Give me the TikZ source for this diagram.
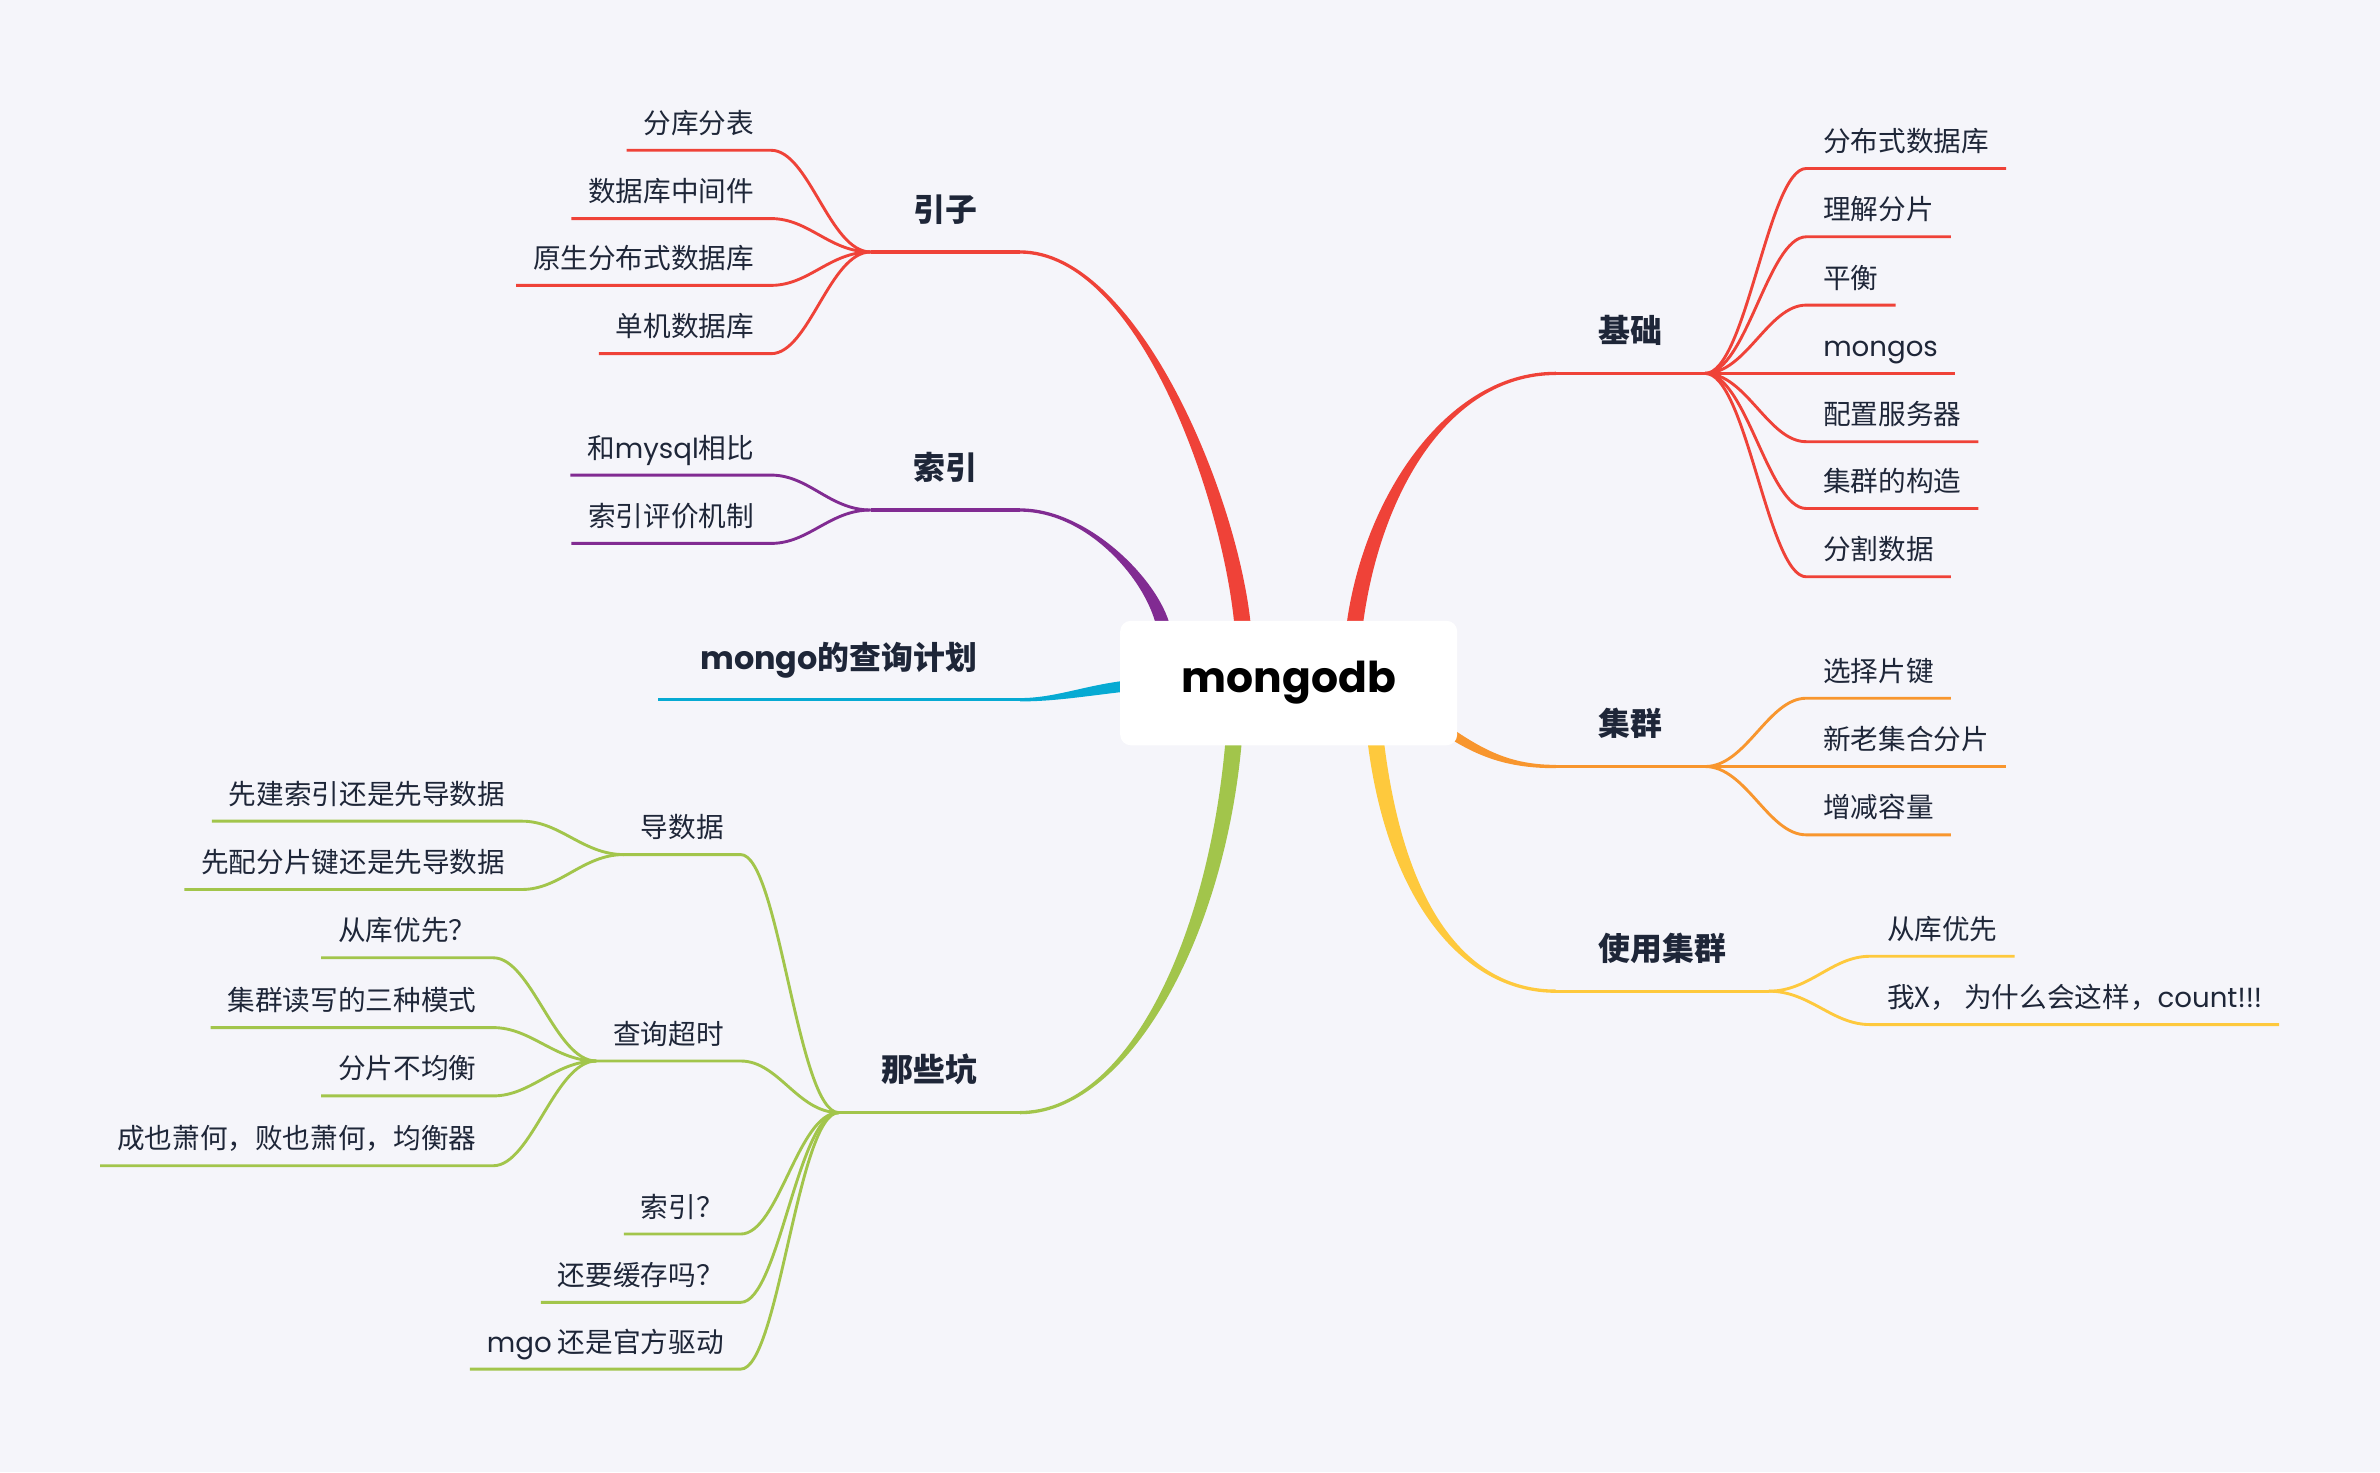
\documentclass[tikz,border=0pt]{standalone}
\usepackage{fontspec}
\setmainfont{Noto Sans CJK SC}
\newfontfamily\lat{Poppins}
\usetikzlibrary{calc}
\pgfdeclarelayer{under}
\pgfsetlayers{under,main}
\definecolor{paper}{HTML}{F5F5FA}
\definecolor{ink}{HTML}{1E2638}
\definecolor{cred}{HTML}{EF4238}
\definecolor{cpurple}{HTML}{812B92}
\definecolor{ccyan}{HTML}{06AAD3}
\definecolor{cgreen}{HTML}{A2C54B}
\definecolor{cyellow}{HTML}{FEC93D}
\definecolor{corange}{HTML}{F8962E}
% tapered main branch: colour, start, control 1, control 2, end, half width at start
\newcommand\trunk[6]{%
  \fill[#1] ($(#2)+(#6)$) .. controls ($(#3)+(#6)$) and ($(#4)+(0,-1.1)$) .. ($(#5)+(0,-1.1)$)
    -- ($(#5)+(0,1.1)$) .. controls ($(#4)+(0,1.1)$) and ($(#3)-(#6)$) .. ($(#2)-(#6)$) -- cycle;}
\begin{document}
\begin{tikzpicture}[x=1pt,y=-1pt,
    hub/.style={fill=white, rounded corners=7pt, minimum width=222pt, minimum height=82pt,
      font=\lat\bfseries\fontsize{28}{30}\selectfont, text=black},
    topic/.style={font=\bfseries\fontsize{21}{24}\selectfont, text=ink,
      inner xsep=28pt, inner ysep=0pt, text height=16pt, text depth=20pt},
    leaf/.style={font=\fontsize{18.2}{22}\selectfont, text=ink,
      inner xsep=11pt, inner ysep=0pt, text height=14pt, text depth=11pt},
    bar/.style={line width=2.2pt},
    twig/.style={line width=1.9pt}]
  \useasboundingbox (0,0) rectangle (1568,970);
  \begin{pgfonlayer}{under}
    \fill[paper] (0,0) rectangle (1568,970);
  \end{pgfonlayer}

  \node[hub] (hub) at (849,450) {mongodb};

  % right side
  \node[topic, anchor=south west] (jichu) at (1025,246) {基础};
  \node[leaf, anchor=south west] (fbs) at (1190,111) {分布式数据库};
  \node[leaf, anchor=south west] (ljfp) at (1190,156) {理解分片};
  \node[leaf, anchor=south west] (ph) at (1190,201) {平衡};
  \node[leaf, anchor=south west] (mgs) at (1190,246) {{\lat mongos}};
  \node[leaf, anchor=south west] (pz) at (1190,291) {配置服务器};
  \node[leaf, anchor=south west] (gz) at (1190,335) {集群的构造};
  \node[leaf, anchor=south west] (fg) at (1190,380) {分割数据};

  \node[topic, anchor=south west] (jiqun) at (1025,505) {集群};
  \node[leaf, anchor=south west] (xzpj) at (1190,460) {选择片键};
  \node[leaf, anchor=south west] (xljh) at (1190,505) {新老集合分片};
  \node[leaf, anchor=south west] (zjrl) at (1190,550) {增减容量};

  \node[topic, anchor=south west] (shiyong) at (1025,653) {使用集群};
  \node[leaf, anchor=south west] (cky) at (1232,630) {从库优先};
  \node[leaf, anchor=south west] (wox) at (1232,675) {我X， 为什么会这样，{\lat count!!!}};

  % left side
  \node[topic, anchor=south east] (yinzi) at (672,166) {引子};
  \node[leaf, anchor=south east] (fkfb) at (508,99) {分库分表};
  \node[leaf, anchor=south east] (zjj) at (508,144) {数据库中间件};
  \node[leaf, anchor=south east] (ysfb) at (508,188) {原生分布式数据库};
  \node[leaf, anchor=south east] (djsj) at (508,233) {单机数据库};

  \node[topic, anchor=south east] (suoyin) at (672,336) {索引};
  \node[leaf, anchor=south east] (hmy) at (508,313) {和{\lat mysql}相比};
  \node[leaf, anchor=south east] (pjjz) at (508,358) {索引评价机制};

  \node[topic, anchor=south east] (plan) at (672,461) {{\lat mongo}的查询计划};

  \node[topic, anchor=south east] (keng) at (672,733) {那些坑};
  \node[leaf, anchor=south east] (dsj) at (488,563) {导数据};
  \node[leaf, anchor=south east] (jsy) at (344,541) {先建索引还是先导数据};
  \node[leaf, anchor=south east] (pfp) at (344,586) {先配分片键还是先导数据};
  \node[leaf, anchor=south east] (cxcs) at (488,699) {查询超时};
  \node[leaf, anchor=south east] (ckyx) at (325,631) {从库优先？};
  \node[leaf, anchor=south east] (dxms) at (325,677) {集群读写的三种模式};
  \node[leaf, anchor=south east] (bjh) at (325,722) {分片不均衡};
  \node[leaf, anchor=south east] (jhq) at (325,768) {成也萧何，败也萧何，均衡器};
  \node[leaf, anchor=south east] (syw) at (488,813) {索引？};
  \node[leaf, anchor=south east] (hcw) at (488,858) {还要缓存吗？};
  \node[leaf, anchor=south east] (qd) at (488,902) {{\lat mgo} 还是官方驱动};

  % main branches, under the hub
  \coordinate (s1) at ($(hub.north)+(-30,7)$);
  \coordinate (s2) at ($(hub.north)+(-82,7)$);
  \coordinate (s3) at ($(hub.west)+(4,2)$);
  \coordinate (s4) at ($(hub.south)+(-36,-6)$);
  \coordinate (s5) at ($(hub.north)+(43,7)$);
  \coordinate (s6) at ($(hub.east)+(-12,28)$);
  \coordinate (s7) at ($(hub.south)+(57,-6)$);
  \begin{pgfonlayer}{under}
    \trunk{cred}{s1}{812,330}{750,166}{yinzi.south east}{5.4,0}
    \trunk{cpurple}{s2}{762,385}{718,336}{suoyin.south east}{4.6,0}
    \trunk{ccyan}{s3}{715,455}{695,461}{plan.south east}{0,-3.6}
    \trunk{cgreen}{s4}{802,620}{742,733}{keng.south east}{-5.4,0}
    \trunk{cred}{s5}{902,330}{952,246}{jichu.south west}{-5.4,0}
    \trunk{corange}{s6}{975,497}{995,505}{jiqun.south west}{1.7,-2.7}
    \trunk{cyellow}{s7}{918,590}{962,653}{shiyong.south west}{5.4,0}
  \end{pgfonlayer}

  % underlines of the main topics
  \draw[bar, cred] (yinzi.south east) -- (yinzi.south west);
  \draw[bar, cpurple] (suoyin.south east) -- (suoyin.south west);
  \draw[bar, ccyan] (plan.south east) -- (plan.south west);
  \draw[bar, cgreen] (keng.south east) -- (keng.south west);
  \draw[bar, cred] (jichu.south west) -- (jichu.south east);
  \draw[bar, corange] (jiqun.south west) -- (jiqun.south east);
  \draw[bar, cyellow] (shiyong.south west) -- (shiyong.south east);

  % right twigs
  \foreach \n in {fbs,ljfp,ph,mgs,pz,gz,fg}
    \draw[twig, cred] (jichu.south east) .. controls +(27,0) and +(-25,0) .. (\n.south west) -- (\n.south east);
  \foreach \n in {xzpj,xljh,zjrl}
    \draw[twig, corange] (jiqun.south east) .. controls +(27,0) and +(-25,0) .. (\n.south west) -- (\n.south east);
  \foreach \n in {cky,wox}
    \draw[twig, cyellow] (shiyong.south east) .. controls +(27,0) and +(-25,0) .. (\n.south west) -- (\n.south east);

  % left twigs
  \foreach \n in {fkfb,zjj,ysfb,djsj}
    \draw[twig, cred] (yinzi.south west) .. controls +(-27,0) and +(25,0) .. (\n.south east) -- (\n.south west);
  \foreach \n in {hmy,pjjz}
    \draw[twig, cpurple] (suoyin.south west) .. controls +(-27,0) and +(25,0) .. (\n.south east) -- (\n.south west);
  \foreach \n in {dsj,cxcs,syw,hcw,qd}
    \draw[twig, cgreen] (keng.south west) .. controls +(-27,0) and +(25,0) .. (\n.south east) -- (\n.south west);
  \foreach \n in {jsy,pfp}
    \draw[twig, cgreen] (dsj.south west) .. controls +(-27,0) and +(25,0) .. (\n.south east) -- (\n.south west);
  \foreach \n in {ckyx,dxms,bjh,jhq}
    \draw[twig, cgreen] (cxcs.south west) .. controls +(-27,0) and +(25,0) .. (\n.south east) -- (\n.south west);
\end{tikzpicture}
\end{document}
